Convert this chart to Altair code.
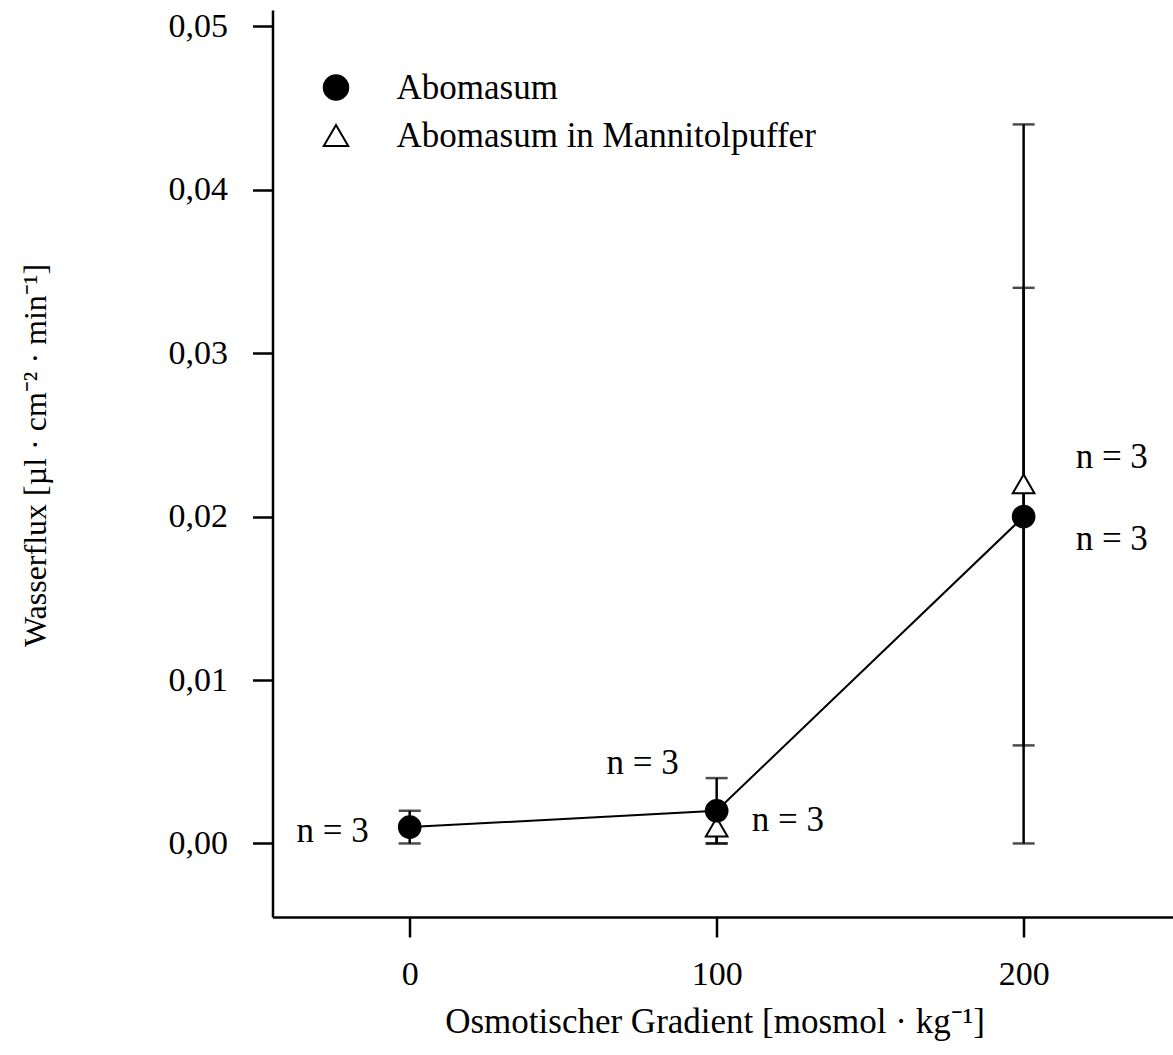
import altair as alt
import pandas as pd

# Osmotic gradient levels [mosmol/kg]
gradient_abo = [0, 100, 200]
flux_abo = [0.001, 0.002, 0.020]
sd_abo = [0.001, 0.002, 0.014]

gradient_man = [100, 200]
flux_man = [0.001, 0.022]
sd_man = [0.001, 0.022]

series_names = ["Abomasum", "Abomasum in Mannitolpuffer"]
n_label = "n = 3"

FONT = "Liberation Serif"
FS_TICK = 34
FS_TEXT = 35

rows = []
# mannitol rows first so the filled circles are drawn on top
for g, f, s in zip(gradient_man, flux_man, sd_man):
    rows.append({"g": g, "flux": f, "lo": f - s, "hi": f + s, "series": series_names[1]})
for g, f, s in zip(gradient_abo, flux_abo, sd_abo):
    rows.append({"g": g, "flux": f, "lo": f - s, "hi": f + s, "series": series_names[0]})
df = pd.DataFrame(rows)
df_abo = df[df.series == series_names[0]]

x_scale = alt.Scale(domain=[-44.7, 248.5], nice=False, zero=False)
y_scale = alt.Scale(domain=[-0.0045, 0.051], nice=False, zero=False)

x_enc = alt.X(
    "g:Q", scale=x_scale,
    axis=alt.Axis(
        values=[0, 100, 200], title="Osmotischer Gradient [mosmol · kg⁻¹]",
        titleX=442, titleY=115, titleBaseline="alphabetic", titleAlign="center",
        titleAnchor="start", titleFontSize=FS_TEXT,
    ),
)
y_enc = alt.Y(
    "lo:Q", scale=y_scale,
    axis=alt.Axis(
        values=[0, 0.01, 0.02, 0.03, 0.04, 0.05],
        labelExpr="replace(format(datum.value, '.2f'), '.', ',')",
        title="Wasserflux [µl · cm⁻² · min⁻¹]",
        titleX=-227.5, titleY=445, titleBaseline="alphabetic", titleAlign="center",
        titleAngle=-90, titleAnchor="start", titleFontSize=32,
    ),
)

base = alt.Chart(df)

err_rule = base.mark_rule(color="black", strokeWidth=2.5).encode(
    x=x_enc, y=y_enc, y2="hi:Q"
)
cap_lo = base.mark_tick(color="black", thickness=2.5, size=22, orient="horizontal").encode(
    x="g:Q", y="lo:Q"
)
cap_hi = base.mark_tick(color="black", thickness=2.5, size=22, orient="horizontal").encode(
    x="g:Q", y="hi:Q"
)

line = alt.Chart(df_abo).mark_line(color="black", strokeWidth=2).encode(
    x="g:Q", y="flux:Q"
)

legend_cfg = dict(
    title=None, orient="none", legendX=46, legendY=60,
    labelFont=FONT, labelFontSize=FS_TEXT, labelColor="black", labelLimit=0,
    symbolSize=600, symbolStrokeWidth=2,
    labelOffset=43, rowPadding=12, padding=0,
)

points = base.mark_point(filled=True, size=470, strokeWidth=2, opacity=1).encode(
    x="g:Q",
    y="flux:Q",
    shape=alt.Shape(
        "series:N",
        scale=alt.Scale(domain=series_names, range=["circle", "triangle-up"]),
        legend=alt.Legend(**legend_cfg),
    ),
    fill=alt.Fill(
        "series:N",
        scale=alt.Scale(domain=series_names, range=["black", "white"]),
        legend=alt.Legend(**legend_cfg),
    ),
    stroke=alt.Stroke(
        "series:N",
        scale=alt.Scale(domain=series_names, range=["black", "black"]),
        legend=alt.Legend(**legend_cfg),
    ),
    order=alt.Order("series:N", sort="descending"),
)


def n_text(gx, fy, align, dx, dy):
    d = pd.DataFrame({"g": [gx], "flux": [fy], "t": [n_label]})
    return alt.Chart(d).mark_text(
        font=FONT, fontSize=FS_TEXT, color="black", align=align, baseline="alphabetic",
        dx=dx, dy=dy,
    ).encode(x="g:Q", y="flux:Q", text="t:N")


labels = [
    n_text(gradient_abo[0], flux_abo[0], "right", -41, 15),
    n_text(gradient_abo[1], flux_abo[1], "right", -38, -37),
    n_text(gradient_man[0], flux_man[0], "left", 35, 4),
    n_text(gradient_man[1], flux_man[1], "left", 52, -16),
    n_text(gradient_abo[2], flux_abo[2], "left", 52, 33),
]

chart = alt.layer(err_rule, cap_lo, cap_hi, line, points, *labels).properties(
    width=900, height=907,
    autosize=alt.AutoSizeParams(type="none"),
    padding={"left": 272.5, "top": 10, "right": 0, "bottom": 138},
).configure_view(stroke=None).configure_axis(
    grid=False,
    domainColor="black", domainWidth=2.5,
    tickColor="black", tickWidth=2.5, tickSize=20,
    labelFont=FONT, labelFontSize=FS_TICK, labelColor="black",
    titleFont=FONT, titleColor="black", titleFontWeight="normal",
).configure_axisX(labelPadding=20).configure_axisY(labelPadding=25)

chart.save("out.html", embed_options={"renderer": "svg", "actions": False})
